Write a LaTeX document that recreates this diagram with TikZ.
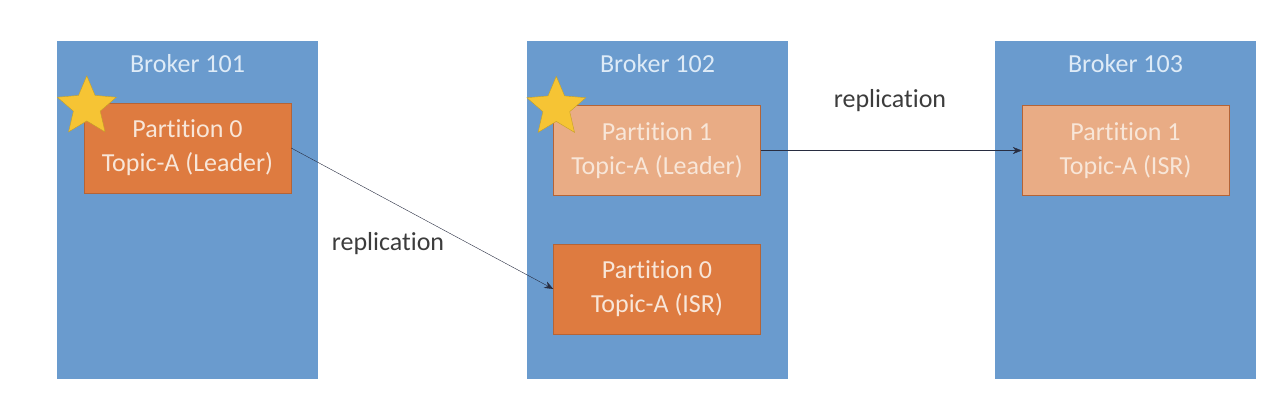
\documentclass[tikz,border=0pt]{standalone}
\usepackage{fontspec}
\setmainfont{Carlito}[Ligatures=NoCommon]
\usepackage{tikz}
\usetikzlibrary{arrows.meta,shapes.geometric,positioning}
\definecolor{bleubroker}{RGB}{106,155,206}
\definecolor{titrebroker}{RGB}{222,235,247}
\definecolor{orangefonce}{RGB}{222,123,64}
\definecolor{orangeclair}{RGB}{233,172,133}
\definecolor{bordorange}{RGB}{180,100,55}
\definecolor{textepart}{RGB}{248,230,216}
\definecolor{jaune}{RGB}{246,196,52}
\definecolor{jaunebord}{RGB}{196,160,40}
\definecolor{flechecol}{RGB}{40,45,65}
\definecolor{textegris}{RGB}{60,60,60}

\begin{document}
\begin{tikzpicture}[x=1pt,y=-1pt,font=\fontsize{26}{34}\selectfont]
%styles : brokers, partitions et étoile du leader
\tikzset{broker/.style={fill=bleubroker,minimum width=261pt,minimum height=338pt,inner sep=0pt},
titre/.style={text=titrebroker},
partition/.style={draw=bordorange,minimum width=207pt,minimum height=90pt,align=center,text=textepart},
fonce/.style={partition,fill=orangefonce},
clair/.style={partition,fill=orangeclair},
etoile/.style={star,star points=5,star point ratio=2.2,minimum size=62pt,inner sep=0pt,fill=jaune,draw=jaunebord},
fleche/.style={draw=flechecol,-{Stealth[length=9pt,width=7pt]}},
texte/.style={text=textegris}}

\useasboundingbox (0,0) rectangle (1286,410);

\node[broker] (b101) at (187.5,210) {};
\node[broker] (b102) at (657.5,210) {};
\node[broker] (b103) at (1125.5,210) {};
\node[titre] (t101) at (187.5,64) {Broker 101};
\node[titre] (t102) at (657.5,64) {Broker 102};
\node[titre] (t103) at (1125.5,64) {Broker 103};

\node[fonce] (p0lead) at (187.5,148) {Partition 0\\Topic-A (Leader)};
\node[clair] (p1lead) at (657,150.5) {Partition 1\\Topic-A (Leader)};
\node[fonce] (p0isr) at (657,289) {Partition 0\\Topic-A (ISR)};
\node[clair] (p1isr) at (1125.5,150.5) {Partition 1\\Topic-A (ISR)};

\node[etoile] (s101) at ([shift={(3,4)}]p0lead.north west) {};
\node[etoile] (s102) at ([shift={(3,2)}]p1lead.north west) {};

%réplication
\draw[fleche] (p0lead.east) -- (p0isr.west);
\draw[fleche] (p1lead.east) -- (p1isr.west);
\node[texte] (r1) at (388,244) {replication};
\node[texte] (r2) at (890,101) {replication};
\end{tikzpicture}
\end{document}
